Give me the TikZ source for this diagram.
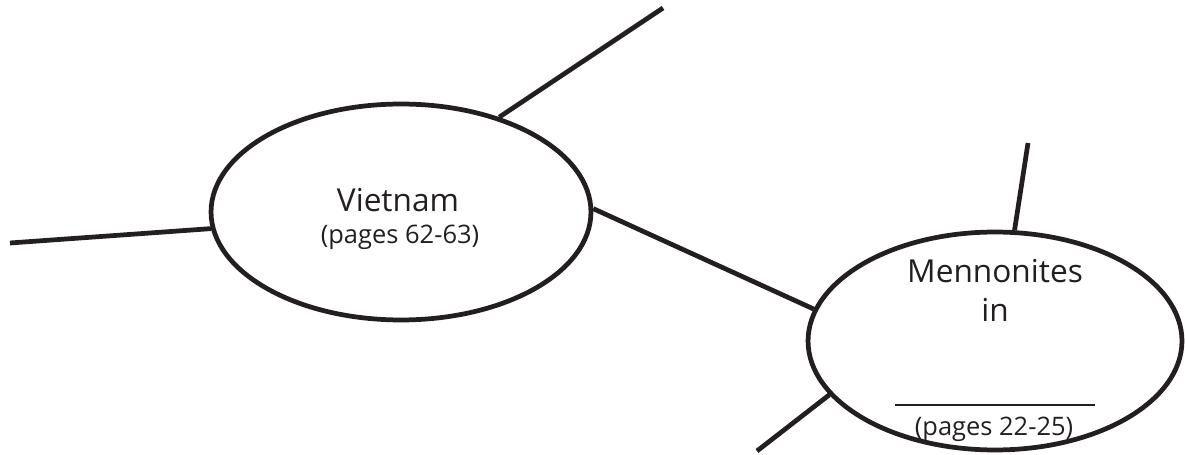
\documentclass[tikz,border=0pt]{standalone}
\usepackage{fontspec}
\setmainfont{Open Sans}
\usetikzlibrary{shapes.geometric}
\definecolor{ink}{RGB}{35,31,32}
\tikzstyle{bubble} = [ellipse, draw=ink, line width=2.7pt, inner sep=0pt]
\tikzstyle{spoke} = [draw=ink, line width=2.7pt]
\tikzstyle{big} = [text=ink, font=\fontsize{18}{22}\selectfont, anchor=base, inner sep=0pt]
\tikzstyle{small} = [text=ink, font=\fontsize{14.5}{17}\selectfont, anchor=base, inner sep=0pt]

\begin{document}
\begin{tikzpicture}[x=0.02cm, y=-0.02cm]
  \useasboundingbox (0,0) rectangle (1185,455);
  % the two bubbles
  \node(viet)[bubble, minimum width=7.6cm, minimum height=4.32cm] at (401,212) {};
  \node(menn)[bubble, minimum width=7.48cm, minimum height=4.36cm] at (995,341) {};
  % texts
  \node(vname)[big] at (398,212) {Vietnam};
  \node(vpages)[small] at (400,244) {(pages 62-63)};
  \node(mname)[big] at (995,283) {Mennonites};
  \node(min)[big] at (995,322) {in};
  \node(mblank)[inner sep=0pt, text=ink] at (995,405) {\rule{4cm}{0.8pt}};
  \node(mpages)[small] at (994,435) {(pages 22-25)};
  % free ends
  \coordinate (w) at (10,243);
  \coordinate (nw) at (663,8);
  \coordinate (ne) at (1028,143);
  \coordinate (sw) at (757,451);
  \draw[spoke] (w) -- (viet.185);
  \draw[spoke] (viet.44) -- (nw);
  \draw[spoke] (viet.1) -- (menn.170);
  \draw[spoke] (menn.80) -- (ne);
  \draw[spoke] (sw) -- (menn.198);
\end{tikzpicture}
\end{document}
